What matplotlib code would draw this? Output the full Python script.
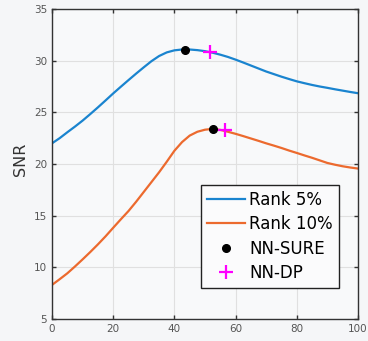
import matplotlib
matplotlib.use("Agg")
import matplotlib.pyplot as plt

# Data
x_vals = [0, 2.5, 5, 7.5, 10, 12.5, 15, 17.5, 20, 22.5, 25, 27.5, 30, 32.5, 35, 37.5, 40, 42.5,
          45, 47.5, 50, 52.5, 55, 57.5, 60, 62.5, 65, 67.5, 70, 72.5, 75, 77.5, 80, 82.5, 85,
          87.5, 90, 92.5, 95, 97.5, 100]
rank5 = [22.0, 22.5, 23.07, 23.62, 24.2, 24.83, 25.48, 26.15, 26.83, 27.48, 28.12, 28.75, 29.36,
         29.95, 30.45, 30.8, 31.0, 31.08, 31.08, 31.02, 30.92, 30.77, 30.58, 30.36, 30.1, 29.82,
         29.53, 29.24, 28.95, 28.7, 28.45, 28.22, 28.0, 27.82, 27.65, 27.5, 27.37, 27.23, 27.1,
         26.97, 26.85]
rank10 = [8.3, 8.85, 9.42, 10.08, 10.77, 11.48, 12.22, 13.0, 13.83, 14.65, 15.45, 16.35, 17.3,
          18.25, 19.2, 20.22, 21.28, 22.12, 22.75, 23.12, 23.32, 23.4, 23.3, 23.12, 22.92, 22.7,
          22.47, 22.24, 22.0, 21.78, 21.55, 21.3, 21.07, 20.83, 20.6, 20.35, 20.1, 19.93, 19.78,
          19.66, 19.56]
sure_x = [43.6, 52.5]
sure_y = [31.08, 23.4]
dp_x = [51.6, 56.4]
dp_y = [30.82, 23.25]
labels = ["Rank 5%", "Rank 10%", "NN-SURE", "NN-DP"]
xticks = [0, 20, 40, 60, 80, 100]
yticks = [5, 10, 15, 20, 25, 30, 35]

bg = "#f5f6f8"
fig = plt.figure(figsize=(3.68, 3.41), dpi=100, facecolor=bg)
ax = fig.add_axes([0.1413, 0.0645, 0.8315, 0.9091])
ax.set_facecolor("#f8f9fa")

ax.plot(x_vals, rank5, color="#1a84cf", lw=1.6, label=labels[0])
ax.plot(x_vals, rank10, color="#ec6a2e", lw=1.6, label=labels[1])
ax.plot(sure_x, sure_y, "o", color="black", ms=5.5, ls="none", label=labels[2], zorder=5)
ax.plot(dp_x, dp_y, "+", color="#ff00ff", ms=10, mew=1.6, ls="none", label=labels[3], zorder=5)

ax.set_xlim(0, 100)
ax.set_ylim(5, 35)
ax.set_xticks(xticks)
ax.set_yticks(yticks)
ax.grid(True, color="#e0e0e0", lw=0.8)
ax.set_axisbelow(True)
ax.tick_params(direction="in", top=True, right=True, length=3, width=1,
               colors="#333333", labelcolor="#555555", labelsize=7.5)
for s in ax.spines.values():
    s.set_color("#333333")
    s.set_linewidth(1.0)
ax.set_ylabel("SNR", fontsize=11.5, color="#333333")
ax.yaxis.set_label_coords(-0.078, 0.516)

leg = ax.legend(loc="upper left", bbox_to_anchor=(0.487, 0.432), borderaxespad=0,
                fontsize=12, frameon=True, fancybox=False, framealpha=1,
                facecolor="#fbfbfc", edgecolor="#222222", handlelength=2.3,
                handletextpad=0.25, labelspacing=0.38, borderpad=0.35)
leg.get_frame().set_linewidth(1.0)

fig.savefig("out.png", dpi=100, facecolor=fig.get_facecolor())
